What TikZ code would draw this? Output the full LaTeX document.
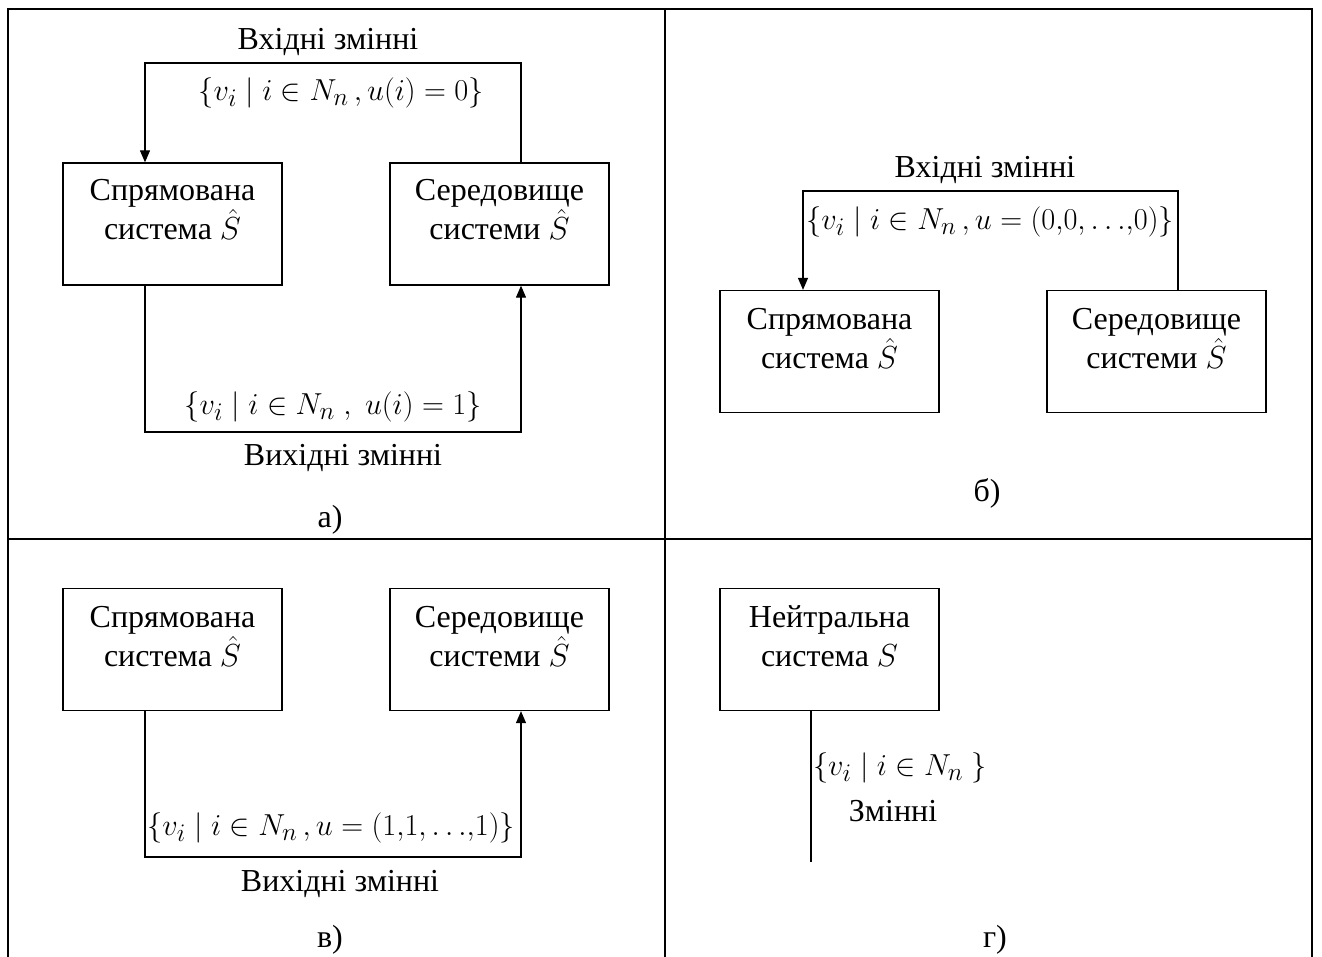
\documentclass[tikz,border=0pt]{standalone}
\usepackage{fontspec}
\setmainfont{Liberation Serif}
\usetikzlibrary{arrows.meta,calc}
\newcommand{\hatSsym}{\scalebox{1.28}{$\hat{S}$}}
\newcommand{\plainSsym}{\scalebox{1.28}{$S$}}
\begin{document}
\begin{tikzpicture}[x=1pt,y=-1pt,
  frame/.style={line width=2pt,line cap=rect},
  box/.style={draw,line width=1.3pt,minimum width=219pt,minimum height=122pt,inner sep=0pt},
  txt/.style={font=\fontsize{32}{39}\selectfont,align=center,inner sep=0pt},
  mth/.style={font=\fontsize{24.88}{30}\selectfont,inner sep=0pt,scale=1.22,transform shape},
  conn/.style={line width=1.2pt},
  arr/.style={line width=1.2pt,-{Triangle[length=12pt,width=10pt]}}]
\useasboundingbox (0,0) rectangle (1322,957);
% frame
\draw[frame] (8,957) -- (8,9) -- (1312,9) -- (1312,957);
\draw[frame] (665,9) -- (665,957);
\draw[frame] (8,539) -- (1312,539);

% ---------- panel a ----------
\node[box] (A1) at (172.5,224) {};
\node[box] (A2) at (499.5,224) {};
\node[txt] (A1t) at (172.5,210) {Спрямована\\система \hatSsym};
\node[txt] (A2t) at (499.5,210) {Середовище\\системи \hatSsym};
\coordinate (aTL) at (145,63);
\coordinate (aTR) at (521,63);
\coordinate (aBL) at (145,432);
\coordinate (aBR) at (521,432);
\draw[arr] (A2.north -| aTR) -- (aTR) -- (aTL) -- (A1.north -| aTL);
\draw[arr] (A1.south -| aBL) -- (aBL) -- (aBR) -- (A2.south -| aBR);
\node[txt] (aIn) at (328,42) {Вхідні змінні};
\node[mth] (aInF) at (341,93) {$\{v_i\mid i\in N_n\,,u(i)=0\}$};
\node[mth] (aOutF) at (333,407) {$\{v_i\mid i\in N_n\;,\;u(i)=1\}$};
\node[txt] (aOut) at (343,458) {Вихідні змінні};
\node[txt] (aLab) at (330,520) {а)};

% ---------- panel b ----------
\node[box] (B1) at (829.5,351.5) {};
\node[box] (B2) at (1156.5,351.5) {};
\node[txt] (B1t) at (829.5,339) {Спрямована\\система \hatSsym};
\node[txt] (B2t) at (1156.5,339) {Середовище\\системи \hatSsym};
\coordinate (bTL) at (803,191);
\coordinate (bTR) at (1178,191);
\draw[arr] (B2.north -| bTR) -- (bTR) -- (bTL) -- (B1.north -| bTL);
\node[txt] (bIn) at (985,170) {Вхідні змінні};
\node[mth] (bInF) at (990,222) {$\{v_i\mid i\in N_n\,,u=(0{,}0,{\ldots}{,}0)\}$};
\node[txt] (bLab) at (987,493) {б)};

% ---------- panel v ----------
\node[box] (C1) at (172.5,649.5) {};
\node[box] (C2) at (499.5,649.5) {};
\node[txt] (C1t) at (172.5,637) {Спрямована\\система \hatSsym};
\node[txt] (C2t) at (499.5,637) {Середовище\\системи \hatSsym};
\coordinate (cBL) at (145,857);
\coordinate (cBR) at (521,857);
\draw[arr] (C1.south -| cBL) -- (cBL) -- (cBR) -- (C2.south -| cBR);
\node[mth] (cOutF) at (331,828) {$\{v_i\mid i\in N_n\,,u=(1{,}1,{\ldots}{,}1)\}$};
\node[txt] (cOut) at (340,884) {Вихідні змінні};
\node[txt] (cLab) at (330,940) {в)};

% ---------- panel g ----------
\node[box] (D1) at (829.5,649.5) {};
\node[txt] (D1t) at (829.5,636) {Нейтральна\\система \plainSsym};
\coordinate (dEnd) at (811,862);
\draw[conn] (D1.south -| dEnd) -- (dEnd);
\node[mth] (dF) at (900,768) {$\{v_i\mid i\in N_n\;\}$};
\node[txt] (dVar) at (893,811) {Змінні};
\node[txt] (dLab) at (995,940) {г)};
\end{tikzpicture}
\end{document}
